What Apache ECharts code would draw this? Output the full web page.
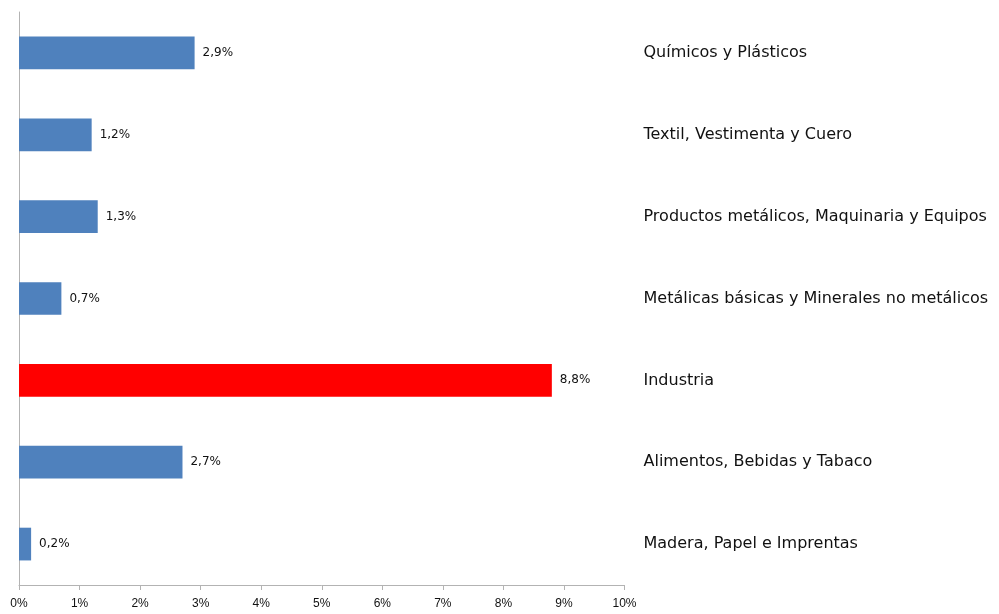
<!DOCTYPE html>
<html>
<head>
<meta charset="utf-8">
<script src="https://cdn.jsdelivr.net/npm/echarts@6/dist/echarts.min.js"></script>
<style>html,body{margin:0;padding:0;background:#fff}#c{width:999px;height:614px}</style>
</head>
<body>
<div id="c"></div>
<script>
const categories = [
  'Madera, Papel e Imprentas',
  'Alimentos, Bebidas y Tabaco',
  'Industria',
  'Metálicas básicas y Minerales no metálicos',
  'Productos metálicos, Maquinaria y Equipos',
  'Textil, Vestimenta y Cuero',
  'Químicos y Plásticos'
];
const values = [0.2, 2.7, 8.8, 0.7, 1.3, 1.2, 2.9];
const highlight = 'Industria';
const xTicks = [0, 1, 2, 3, 4, 5, 6, 7, 8, 9, 10];

const chart = echarts.init(document.getElementById('c'), null, {renderer: 'canvas'});
const fmt = v => v.toFixed(1).replace('.', ',') + '%';
chart.setOption({
  animation: false,
  grid: {left: 19, right: 374.5, top: 12, bottom: 29, containLabel: false},
  xAxis: {
    type: 'value', min: xTicks[0], max: xTicks[xTicks.length - 1], interval: 1,
    axisLine: {show: true, lineStyle: {color: '#b3b3b3', width: 1}},
    axisTick: {show: true, length: 5, lineStyle: {color: '#b3b3b3'}},
    splitLine: {show: false},
    axisLabel: {color: '#111', fontFamily: 'Liberation Sans', fontSize: 12, margin: 13, formatter: v => v + '%'}
  },
  yAxis: [{
    type: 'category', data: categories, position: 'left',
    axisLine: {show: true, lineStyle: {color: '#b3b3b3', width: 1}},
    axisTick: {show: false}, axisLabel: {show: false}
  }, {
    type: 'category', data: categories, position: 'right',
    axisLine: {show: false}, axisTick: {show: false},
    axisLabel: {show: true, align: 'left', margin: 19, color: '#111', fontFamily: 'DejaVu Sans', fontSize: 16}
  }],
  series: [{
    type: 'bar', yAxisIndex: 0, barWidth: '40%',
    data: values.map((v, i) => ({value: v, itemStyle: {color: categories[i] === highlight ? '#FF0000' : '#4F81BD'}})),
    label: {show: true, position: 'right', distance: 8, color: '#111', fontFamily: 'DejaVu Sans', fontSize: 12, formatter: p => fmt(p.value)}
  }]
});
</script>
</body>
</html>
